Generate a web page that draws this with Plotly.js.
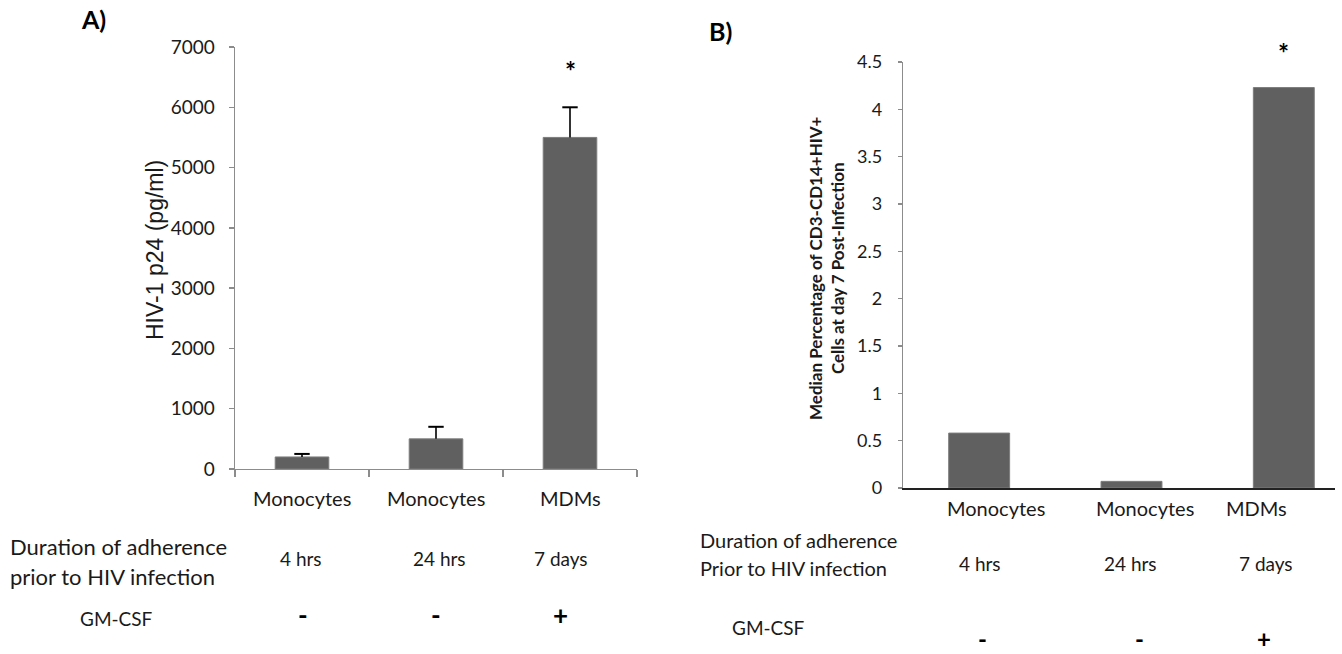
<!DOCTYPE html>
<html>
<head>
<meta charset="utf-8">
<script src="https://cdn.plot.ly/plotly-3.0.1.min.js"></script>
<style>html,body{margin:0;padding:0;background:#fff;}#chart{width:1342px;height:654px;}</style>
</head>
<body>
<div id="chart"></div>
<script>
// ---- data ----
const categories = ['Monocytes', 'Monocytes', 'MDMs'];
const durations = ['4 hrs', '24 hrs', '7 days'];
const gmcsf = ['-', '-', '+'];
const p24 = [200, 500, 5500];          // panel A, HIV-1 p24 (pg/ml)
const p24Err = [50, 200, 500];         // panel A, upper error
const pctHIV = [0.58, 0.07, 4.23];     // panel B, median % CD3-CD14+HIV+
const yTicksA = [0, 1000, 2000, 3000, 4000, 5000, 6000, 7000];
const yTicksB = [0, 0.5, 1, 1.5, 2, 2.5, 3, 3.5, 4, 4.5];
const sigA = ['', '', '*'];
const sigB = ['', '', '*'];

// ---- helpers ----
const W = 1342, H = 654;
const px = v => v / W;
const py = v => 1 - v / H;
const idx = categories.map((_, i) => i);
const FONT = 'Lato, "Open Sans", sans-serif';
const TXT = '#1a1a1a';
const AX = '#8c8c8c';
const BAR = '#606060';

// error bar stems (from bar top up to top + error) and caps, derived from the data arrays
const stemX = [], stemY = [];
idx.forEach(i => { stemX.push(i, i, null); stemY.push(p24[i], p24[i] + p24Err[i], null); });
const capY = p24.map((v, i) => v + p24Err[i]);

const traces = [
  {
    type: 'bar', x: idx, y: p24, xaxis: 'x', yaxis: 'y', width: 0.4,
    marker: {color: BAR, line: {color: '#7d7d7d', width: 1}},
    hoverinfo: 'skip', showlegend: false
  },
  {
    type: 'scatter', mode: 'lines', x: stemX, y: stemY, xaxis: 'x', yaxis: 'y',
    line: {color: '#000', width: 1.6}, connectgaps: false, hoverinfo: 'skip', showlegend: false
  },
  {
    type: 'scatter', mode: 'markers', x: idx, y: capY, xaxis: 'x', yaxis: 'y',
    marker: {symbol: 'line-ew', size: 11, color: '#000', line: {color: '#000', width: 2}},
    hoverinfo: 'skip', showlegend: false, cliponaxis: false
  },
  {
    type: 'bar', x: idx, y: pctHIV, xaxis: 'x2', yaxis: 'y2', width: 0.4,
    marker: {color: BAR, line: {color: '#7d7d7d', width: 1}},
    hoverinfo: 'skip', showlegend: false
  }
];

const ann = [];
function txt(text, x, y, opts) {
  ann.push(Object.assign({text: text, x: x, y: y, xref: 'paper', yref: 'paper',
    xanchor: 'center', yanchor: 'middle', showarrow: false,
    font: {family: FONT, size: 20, color: TXT}}, opts || {}));
}

// Panel labels
txt('<b>A)</b>', px(93), py(19), {font: {family: FONT, size: 25, color: '#000'}});
txt('<b>B)</b>', px(721), py(31), {font: {family: FONT, size: 25, color: '#000'}});

// Axis titles
txt('HIV-1 p24 (pg/ml)', px(155), py(250), {textangle: -90,
  font: {family: '"Liberation Sans", Arial, sans-serif', size: 23, color: TXT}});
txt('<b>Median Percentage of CD3-CD14+HIV+<br>Cells at day 7 Post-Infection</b>', px(826), py(268),
  {textangle: -90, font: {family: FONT, size: 17, color: TXT}});

// Panel A rows
const aCatX = [302, 436, 570], aDurX = [301, 439, 561], aSignX = [303, 436, 560];
categories.forEach((c, i) => txt(c, px(aCatX[i]), py(498)));
durations.forEach((d, i) => txt(d, px(aDurX[i]), py(558), {font: {family: FONT, size: 19, color: TXT}}));
gmcsf.forEach((g, i) => txt('<b>' + g + '</b>', px(aSignX[i]), py(615), {font: {family: FONT, size: 26, color: '#000'}}));
txt('Duration of adherence', px(8), py(546), {xanchor: 'left', font: {family: FONT, size: 22, color: TXT}});
txt('prior to HIV infection', px(8), py(576), {xanchor: 'left', font: {family: FONT, size: 22, color: TXT}});
txt('GM-CSF', px(116), py(618), {font: {family: FONT, size: 19, color: TXT}});

// Panel B rows
const bCatX = [996, 1145, 1256], bDurX = [980, 1130, 1266], bSignX = [982, 1139, 1264];
categories.forEach((c, i) => txt(c, px(bCatX[i]), py(508)));
durations.forEach((d, i) => txt(d, px(bDurX[i]), py(563), {font: {family: FONT, size: 19, color: TXT}}));
gmcsf.forEach((g, i) => txt('<b>' + g + '</b>', px(bSignX[i]), py(638), {font: {family: FONT, size: 24, color: '#000'}}));
txt('Duration of adherence', px(698), py(540), {xanchor: 'left', font: {family: FONT, size: 20, color: TXT}});
txt('Prior to HIV infection', px(698), py(568), {xanchor: 'left', font: {family: FONT, size: 20, color: TXT}});
txt('GM-CSF', px(768), py(627), {font: {family: FONT, size: 19, color: TXT}});

// Significance stars (anchored to data)
sigA.forEach((s, i) => { if (s) ann.push({text: '<b>' + s + '</b>', x: i, y: p24[i] + p24Err[i], xref: 'x', yref: 'y',
  yshift: 36, showarrow: false, font: {family: FONT, size: 26, color: '#000'}}); });
sigB.forEach((s, i) => { if (s) ann.push({text: '<b>' + s + '</b>', x: i, y: pctHIV[i], xref: 'x2', yref: 'y2',
  yshift: 35, showarrow: false, font: {family: FONT, size: 26, color: '#000'}}); });

const layout = {
  width: W, height: H,
  margin: {l: 0, r: 0, t: 0, b: 0},
  paper_bgcolor: '#fff', plot_bgcolor: 'rgba(0,0,0,0)',
  showlegend: false,
  font: {family: FONT, color: TXT},
  xaxis: {
    domain: [px(235), px(637)], range: [-0.5, 2.5], anchor: 'y',
    showline: true, linecolor: AX, linewidth: 1.3,
    tickmode: 'array', tickvals: [-0.5, 0.5, 1.5, 2.5], ticktext: ['', '', '', ''],
    ticks: 'outside', ticklen: 7, tickcolor: AX, tickwidth: 1.3,
    showgrid: false, zeroline: false, fixedrange: true
  },
  yaxis: {
    domain: [py(469), py(47)], range: [0, 7000], anchor: 'x',
    tickmode: 'array', tickvals: yTicksA, ticktext: yTicksA.map(String),
    ticks: 'outside', ticklen: 5, tickcolor: AX, tickwidth: 1.3,
    showline: true, linecolor: AX, linewidth: 1.3,
    showgrid: false, zeroline: false, fixedrange: true,
    tickfont: {family: FONT, size: 19, color: TXT}, ticklabelstandoff: 10
  },
  xaxis2: {
    domain: [px(903), px(1335)], range: [-0.5, 2.336], anchor: 'y2',
    showline: true, linecolor: '#222', linewidth: 1.6,
    showticklabels: false, ticks: '',
    showgrid: false, zeroline: false, fixedrange: true
  },
  yaxis2: {
    domain: [py(488), py(62)], range: [0, 4.5], anchor: 'x2',
    tickmode: 'array', tickvals: yTicksB, ticktext: yTicksB.map(String),
    ticks: 'outside', ticklen: 4, tickcolor: AX, tickwidth: 1.3,
    showline: true, linecolor: AX, linewidth: 1.3,
    showgrid: false, zeroline: false, fixedrange: true,
    tickfont: {family: FONT, size: 18, color: TXT}, ticklabelstandoff: 12
  },
  annotations: ann
};

Plotly.newPlot('chart', traces, layout, {displayModeBar: false, staticPlot: true});
</script>
</body>
</html>
